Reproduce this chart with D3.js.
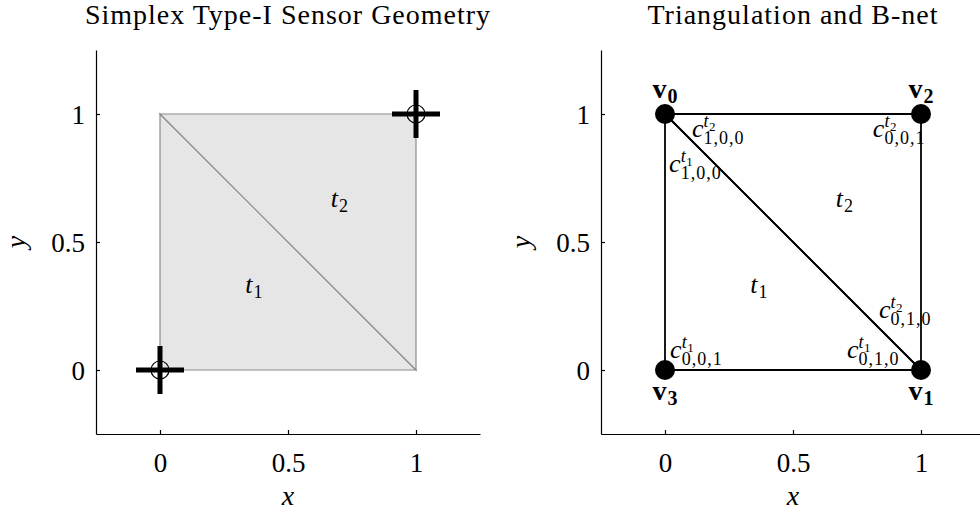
<!DOCTYPE html>
<html lang="en">
<head>
<meta charset="UTF-8" />
<title>Simplex Type-I Sensor Geometry</title>
<style>
  body { margin: 0; background: #fff; }
  svg text { font-family: "Liberation Serif", "Times New Roman", "DejaVu Serif", serif; }
</style>
</head>
<body>
<svg width="980" height="516" font-family="Liberation Serif, Times New Roman, DejaVu Serif, serif"></svg>
<script src="https://d3js.org/d3.v7.min.js"></script>
<script>
    // ---- data ----
    var titles = ["Simplex Type-I Sensor Geometry", "Triangulation and B-net"];
    var axisDomain = [-0.25, 1.25];
    var tickValues = [0, 0.5, 1];
    var tickLabels = ["0", "0.5", "1"];

    // the two triangles of the unit square
    var triangles = [
        {name: "1", pts: [[0, 0], [1, 0], [0, 1]], cx: 0.333, cy: 0.333},
        {name: "2", pts: [[1, 0], [1, 1], [0, 1]], cx: 0.667, cy: 0.667}
    ];

    // sensor positions (left panel)
    var sensors = [[0, 0], [1, 1]];

    // vertices (right panel)
    var vertices = [
        {id: "0", x: 0, y: 1},
        {id: "1", x: 1, y: 0},
        {id: "2", x: 1, y: 1},
        {id: "3", x: 0, y: 0}
    ];

    // B-net coefficient labels, anchor = left edge / baseline of the "c"
    var bnetLabels = [
        {tri: "2", idx: "1,0,0", x: 0.105, y: 0.91},
        {tri: "1", idx: "1,0,0", x: 0.016, y: 0.775},
        {tri: "2", idx: "0,0,1", x: 0.812, y: 0.91},
        {tri: "2", idx: "0,1,0", x: 0.836, y: 0.205},
        {tri: "1", idx: "0,1,0", x: 0.711, y: 0.045},
        {tri: "1", idx: "0,0,1", x: 0.020, y: 0.048}
    ];

    var FONT = "Liberation Serif, Times New Roman, DejaVu Serif, serif";

    // ---- layout ----
    var svg = d3.select("svg");
    var panels = [
        {left: 96, top: 50, size: 384},
        {left: 601, top: 50, size: 384}
    ];

    function makeScales(p) {
        return {
            x: d3.scaleLinear().domain(axisDomain).range([p.left, p.left + p.size]),
            y: d3.scaleLinear().domain(axisDomain).range([p.top + p.size, p.top])
        };
    }

    function txt(g) {
        return g.append("text").attr("font-family", FONT).attr("fill", "#000");
    }

    function drawAxes(p, s, title) {
        var bottom = p.top + p.size;

        var gx = svg.append("g")
            .attr("transform", "translate(0," + bottom + ")")
            .call(d3.axisBottom(s.x).tickValues(tickValues)
                .tickFormat(function(d, i) { return tickLabels[i]; })
                .tickSize(-4).tickSizeOuter(0))
            .attr("font-family", FONT).attr("font-size", 27);
        gx.selectAll("text").attr("y", 38).attr("dy", null).attr("fill", "#000");

        var gy = svg.append("g")
            .attr("transform", "translate(" + p.left + ",0)")
            .call(d3.axisLeft(s.y).tickValues(tickValues)
                .tickFormat(function(d, i) { return tickLabels[i]; })
                .tickSize(-4).tickSizeOuter(0).tickPadding(11))
            .attr("font-family", FONT).attr("font-size", 27);
        gy.selectAll("text").attr("dy", "0.35em").attr("fill", "#000");

        svg.selectAll(".domain, .tick line").attr("stroke", "#000").attr("stroke-width", 1.2);

        txt(svg)
            .attr("x", p.left + p.size / 2)
            .attr("y", 24)
            .attr("text-anchor", "middle")
            .attr("font-size", 28)
            .attr("letter-spacing", 1)
            .text(title);

        txt(svg)
            .attr("x", p.left + p.size / 2)
            .attr("y", 505)
            .attr("text-anchor", "middle")
            .attr("font-size", 28)
            .attr("font-style", "italic")
            .text("x");

        txt(svg)
            .attr("transform", "translate(" + (p.left - 71) + "," + (p.top + p.size / 2) + ") rotate(-90)")
            .attr("text-anchor", "middle")
            .attr("font-size", 28)
            .attr("font-style", "italic")
            .text("y");
    }

    // t_1 / t_2 label, vertically centred on (x,y)
    function triLabel(s, t) {
        var g = svg.append("g");
        var base = txt(g)
            .attr("x", s.x(t.cx)).attr("y", s.y(t.cy) + 8)
            .attr("font-size", 26).attr("font-style", "italic")
            .text("t");
        var w = base.node().getComputedTextLength();
        txt(g)
            .attr("x", s.x(t.cx) + w + 1).attr("y", s.y(t.cy) + 13)
            .attr("font-size", 18)
            .text(t.name);
    }

    var line = d3.line();

    // ---- left panel ----
    var sL = makeScales(panels[0]);
    drawAxes(panels[0], sL, titles[0]);

    svg.append("g").selectAll("path")
        .data(triangles)
        .enter().append("path")
        .attr("d", function(t) { return line(t.pts.map(function(q) { return [sL.x(q[0]), sL.y(q[1])]; })) + "Z"; })
        .attr("fill", "#e6e6e6")
        .attr("stroke", "#8c8c8c")
        .attr("stroke-width", 1.2);

    triangles.forEach(function(t) { triLabel(sL, t); });

    var sens = svg.append("g").selectAll("g")
        .data(sensors)
        .enter().append("g")
        .attr("transform", function(d) { return "translate(" + sL.x(d[0]) + "," + sL.y(d[1]) + ")"; });
    sens.append("circle").attr("r", 9).attr("fill", "none").attr("stroke", "#000").attr("stroke-width", 1.2);
    sens.append("path").attr("d", "M-24,0H24M0,-24V24").attr("stroke", "#000").attr("stroke-width", 5);

    // ---- right panel ----
    var sR = makeScales(panels[1]);
    drawAxes(panels[1], sR, titles[1]);

    svg.append("g").selectAll("path")
        .data(triangles)
        .enter().append("path")
        .attr("d", function(t) { return line(t.pts.map(function(q) { return [sR.x(q[0]), sR.y(q[1])]; })) + "Z"; })
        .attr("fill", "none")
        .attr("stroke", "#000")
        .attr("stroke-width", 1.8);

    triangles.forEach(function(t) { triLabel(sR, t); });

    svg.append("g").selectAll("circle")
        .data(vertices)
        .enter().append("circle")
        .attr("cx", function(d) { return sR.x(d.x); })
        .attr("cy", function(d) { return sR.y(d.y); })
        .attr("r", 10)
        .attr("fill", "#000");

    // bold v_i labels, above top vertices and below bottom ones
    vertices.forEach(function(v) {
        var g = svg.append("g");
        var by = sR.y(v.y) + (v.y > 0.5 ? -16 : 30);
        var t1 = txt(g).attr("y", by).attr("font-size", 28).attr("font-weight", "bold").text("v");
        var t2 = txt(g).attr("y", by + 5).attr("font-size", 20).attr("font-weight", "bold").text(v.id);
        var w1 = t1.node().getComputedTextLength(), w2 = t2.node().getComputedTextLength();
        var x0 = sR.x(v.x) - (w1 + w2 + 1) / 2;
        t1.attr("x", x0);
        t2.attr("x", x0 + w1 + 1);
    });

    // c^{t_k}_{i,j,k} labels
    bnetLabels.forEach(function(b) {
        var g = svg.append("g");
        var x0 = sR.x(b.x), y0 = sR.y(b.y);
        var c = txt(g).attr("x", x0).attr("y", y0)
            .attr("font-size", 26).attr("font-style", "italic").text("c");
        var wc = c.node().getComputedTextLength();
        var st = txt(g).attr("x", x0 + wc).attr("y", y0 - 10)
            .attr("font-size", 18).attr("font-style", "italic").text("t");
        var wt = st.node().getComputedTextLength();
        txt(g).attr("x", x0 + wc + wt + 0.5).attr("y", y0 - 6)
            .attr("font-size", 13).text(b.tri);
        txt(g).attr("x", x0 + wc).attr("y", y0 + 7)
            .attr("font-size", 18).attr("letter-spacing", 1).text(b.idx);
    });
</script>
</body>
</html>
